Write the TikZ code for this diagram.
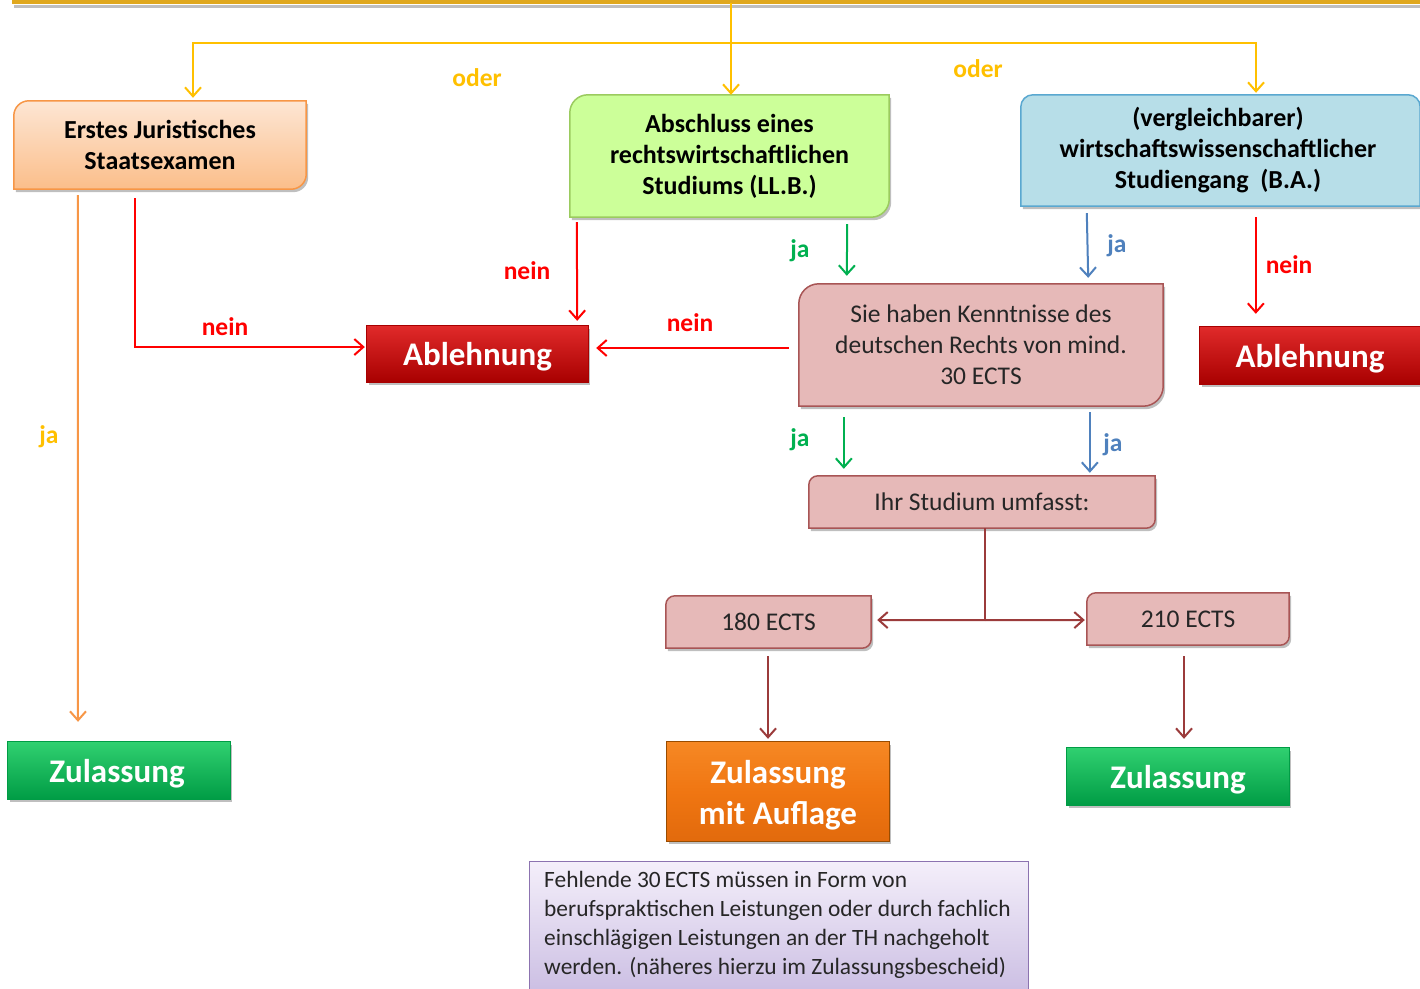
\documentclass[tikz,border=0pt]{standalone}
\usepackage{fontspec}
\setmainfont{Carlito}
\usetikzlibrary{arrows.meta,calc,backgrounds,shadows}
\definecolor{yel}{HTML}{FFC000}
\definecolor{topbar}{HTML}{E0A81E}
\definecolor{orln}{HTML}{F79646}
\definecolor{rd}{HTML}{FF0000}
\definecolor{jagreen}{HTML}{00B050}
\definecolor{jablue}{HTML}{4F81BD}
\definecolor{dkred}{HTML}{9B3B3B}
\definecolor{pinkfill}{HTML}{E6B9B8}
\definecolor{pinkbrd}{HTML}{A85555}
\definecolor{ortop}{HTML}{FDE6D4}
\definecolor{orbot}{HTML}{FBBE8A}
\definecolor{orbrd}{HTML}{F79646}
\definecolor{grfill}{HTML}{CCFF99}
\definecolor{grbrd}{HTML}{9BCB5F}
\definecolor{blfill}{HTML}{B7DEE8}
\definecolor{blbrd}{HTML}{5AA8D0}
\definecolor{notetop}{HTML}{F4EFFA}
\definecolor{notebot}{HTML}{CBBEE3}
\definecolor{notebrd}{HTML}{8C73B0}
\definecolor{abltop}{HTML}{E02A2A}
\definecolor{ablmid}{HTML}{C80000}
\definecolor{ablbot}{HTML}{A80000}
\definecolor{zultop}{HTML}{30D070}
\definecolor{zulmid}{HTML}{00B452}
\definecolor{zulbot}{HTML}{009C45}
\newcommand\tlbr[3]{%
  \path[#1] let \p1=(#2.north west), \p2=(#2.south east) in
    (\x1,{\y1-#3}) arc[start angle=180,end angle=90,radius=#3] -- (\x2,\y1)
    -- (\x2,{\y2+#3}) arc[start angle=0,end angle=-90,radius=#3] -- (\x1,\y2) -- cycle;}
\tikzset{
  boxtxt/.style={font=\fontsize{26}{31}\selectfont\bfseries, align=center, inner sep=0pt},
  pinktxt/.style={font=\fontsize{25.5}{31}\selectfont, align=center, inner sep=0pt, text=black!85},
  bigtxt/.style={font=\fontsize{33}{41}\selectfont\bfseries, align=center, inner sep=0pt, text=white},
  frame/.style={inner sep=0pt},
  lbl/.style={font=\fontsize{25.5}{28}\selectfont\bfseries, inner sep=0pt},
  shad/.style={drop shadow={shadow xshift=2pt, shadow yshift=-3pt, opacity=0.25, fill=black}},
  arr/.style={line width=2pt, -{Straight Barb[length=9pt,width=16pt]}},
  redbox/.style={shad, draw=ablbot, line width=0.8pt, top color=abltop, middle color=ablmid, bottom color=ablbot},
  greenbox/.style={shad, draw=zulbot, line width=0.8pt, top color=zultop, middle color=zulmid, bottom color=zulbot},
  orangebox/.style={shad, draw=orange!60!black, line width=0.8pt, top color={rgb,255:red,246;green,136;blue,36}, bottom color={rgb,255:red,226;green,106;blue,12}, middle color={rgb,255:red,240;green,118;blue,18}},
  pinkbox/.style={shad, fill=pinkfill, draw=pinkbrd, line width=1.5pt}
}
\begin{document}
\begin{tikzpicture}[x=1pt,y=-1pt]
\useasboundingbox (0,0) rectangle (1420,988);
\clip (0,0) rectangle (1420,988);
\begin{scope}[on background layer]
\fill[white] (0,0) rectangle (1420,988);
\end{scope}

% ---------- nodes ----------
\node[boxtxt, minimum width=292pt, minimum height=88pt] (box1) at (160,145) {Erstes Juristisches\\Staatsexamen};
\node[boxtxt, minimum width=319pt, minimum height=122pt] (box2) at (729.5,156) {Abschluss eines\\rechtswirtschaftlichen\\Studiums (LL.B.)};
\node[boxtxt, minimum width=399pt, minimum height=111pt] (box3) at (1220.5,150.5) {\hspace*{-5pt}(vergleichbarer)\\\hspace*{-5pt}wirtschaftswissenschaftlicher\\\hspace*{-5pt}Studiengang\ \ (B.A.)};
\node[frame, minimum width=221pt, minimum height=56pt] (abl1) at (477.5,354) {};
\node[bigtxt] (abl1txt) at ($(abl1)+(0,3)$) {Ablehnung};
\node[frame, minimum width=220pt, minimum height=57pt] (abl2) at (1310,355.5) {};
\node[bigtxt] (abl2txt) at ($(abl2)+(0,3)$) {Ablehnung};
\node[pinktxt, minimum width=364pt, minimum height=122pt] (kennt) at (981,345) {Sie haben Kenntnisse des\\deutschen Rechts von mind.\\30 ECTS};
\node[pinktxt, minimum width=346pt, minimum height=52pt] (ihr) at (982,502) {Ihr Studium umfasst:};
\node[pinktxt, minimum width=205pt, minimum height=52pt] (e180) at (768.5,622) {180 ECTS};
\node[pinktxt, minimum width=202pt, minimum height=52pt] (e210) at (1188,619) {210 ECTS};
\node[frame, minimum width=222pt, minimum height=57pt] (zul1) at (119,770.5) {};
\node[bigtxt] (zul1txt) at ($(zul1)+(-2,3)$) {Zulassung};
\node[frame, minimum width=222pt, minimum height=99pt] (zulA) at (778,791.5) {};
\node[bigtxt] (zulAtxt) at ($(zulA)+(0,4)$) {Zulassung\\mit Auflage};
\node[frame, minimum width=222pt, minimum height=57pt] (zul2) at (1178,776.5) {};
\node[bigtxt] (zul2txt) at ($(zul2)+(0,3)$) {Zulassung};
\node[draw=notebrd, line width=1pt, top color=notetop, bottom color=notebot, minimum width=499pt, minimum height=132pt, anchor=north west, inner sep=0pt] (note) at (529,861) {};
\node[font=\fontsize{23.4}{29}\selectfont, align=left, anchor=west, inner sep=0pt, text=black!85] (notetxt) at (544,924.5) {Fehlende 30\,ECTS müssen in Form von\\berufspraktischen Leistungen oder durch fachlich\\einschlägigen Leistungen an der TH nachgeholt\\werden. (näheres hierzu im Zulassungsbescheid)};

% ---------- shapes on background ----------
\begin{scope}[on background layer]
  \tlbr{shad, draw=orbrd, line width=1.5pt, top color=ortop, bottom color=orbot}{box1}{15pt}
  \tlbr{shad, draw=grbrd, line width=1.5pt, fill=grfill}{box2}{18pt}
  \path[shad, draw=blbrd, line width=1.5pt, fill=blfill] let \p1=(box3.north west), \p2=(box3.south east) in
    (\x1,\y2) -- (\x1,{\y1-12pt}) arc[start angle=180,end angle=90,radius=12pt]
    -- ({\x2-12pt},\y1) arc[start angle=90,end angle=0,radius=12pt] -- (\x2,\y2) -- cycle;
  \tlbr{pinkbox}{kennt}{20pt}
  \tlbr{pinkbox}{ihr}{9pt}
  \tlbr{pinkbox}{e180}{9pt}
  \tlbr{pinkbox}{e210}{9pt}
  \path[redbox] (abl1.north west) rectangle (abl1.south east);
  \path[redbox] (abl2.north west) rectangle (abl2.south east);
  \path[greenbox] (zul1.north west) rectangle (zul1.south east);
  \path[greenbox] (zul2.north west) rectangle (zul2.south east);
  \path[orangebox] (zulA.north west) rectangle (zulA.south east);
  % top bar
  \draw[black, opacity=0.25, line width=3pt] (14,6) -- (1420,6);
  \draw[topbar, line width=4pt] (12,1.5) -- (1420,1.5);
\end{scope}

% ---------- connectors ----------
\coordinate (topc) at (731,3);
\coordinate (ybar) at (731,43);
\coordinate (yl) at ($(box1.north)+(33,-3)$);
\coordinate (yr) at ($(box3.north)+(35.5,-2)$);
\draw[arr, yel] (topc) -- (topc |- box2.north);
\draw[yel, line width=2pt, {Straight Barb[length=9pt,width=16pt]}-{Straight Barb[length=9pt,width=16pt]}]
  (yl) -- (yl |- ybar) -- (yr |- ybar) -- (yr);
\node[lbl, text=yel] (oder1) at (477,78) {oder};
\node[lbl, text=yel] (oder2) at (978,69) {oder};

\draw[arr, orln] ($(box1.south west)+(64,6)$) -- ($(zul1.north)+(-41,-20)$);
\node[lbl, text=yel] (ja1) at (49,437) {ja};

\draw[arr, rd] ($(box1.south west)+(121,9)$) |- ($(abl1.west)+(-2,-7)$);
\node[lbl, text=rd] (nein1) at (225,327) {nein};

\draw[arr, rd] ($(box2.south west)+(7,5)$) -- ($(abl1.north east)+(-11,-5)$);
\node[lbl, text=rd] (nein2) at (527,271) {nein};

\draw[arr, rd] ($(kennt.west)+(-10,3)$) -- ($(abl1.east)+(8,-6)$);
\node[lbl, text=rd] (nein3) at (690,323) {nein};

\draw[arr, jagreen] ($(box2.south east)+(-42,7)$) -- ($(kennt.north west)+(48,-8)$);
\node[lbl, text=jagreen] (ja2) at (800,251) {ja};

\draw[arr, jablue] ($(box3.south west)+(66,7)$) -- ($(kennt.north east)+(-75,-6)$);
\node[lbl, text=jablue] (ja3) at (1117,246) {ja};

\draw[arr, rd] ($(box3.south west)+(235,11)$) -- ($(abl2.north west)+(56,-13)$);
\node[lbl, text=rd] (nein4) at (1289,265) {nein};

\draw[arr, jagreen] ($(kennt.south west)+(45,11)$) -- ($(ihr.north west)+(35,-7)$);
\node[lbl, text=jagreen] (ja4) at (800,440) {ja};

\draw[arr, jablue] ($(kennt.south west)+(291,6)$) -- ($(ihr.north west)+(281,-3)$);
\node[lbl, text=jablue] (ja5) at (1113,445) {ja};

\coordinate (split) at ($(ihr.south)+(3,92)$);
\draw[dkred, line width=2pt] ($(ihr.south)+(3,0)$) -- (split);
\draw[arr, dkred] (split) -- ($(e180.east)+(6,-2)$);
\draw[arr, dkred] (split) -- ($(e210.west)+(-2,1)$);
\draw[arr, dkred] ($(e180.south)+(-0.5,8)$) -- ($(zulA.north)+(-10,-3)$);
\draw[arr, dkred] ($(e210.south)+(-4,11)$) -- ($(zul2.north)+(6,-9)$);
\end{tikzpicture}
\end{document}
